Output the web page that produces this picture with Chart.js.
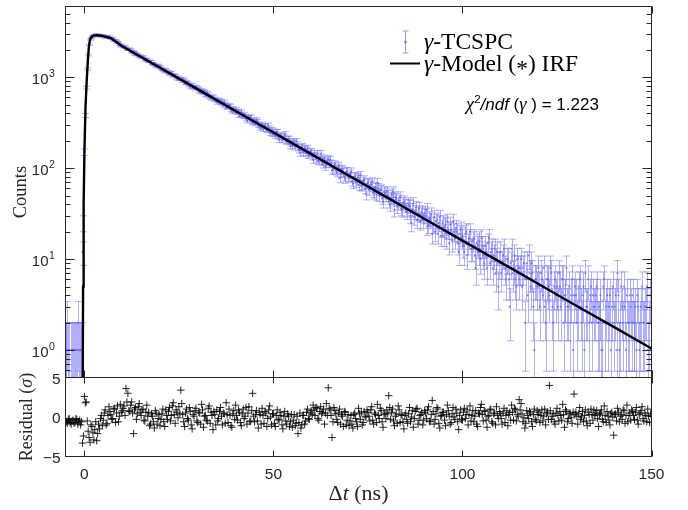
<!DOCTYPE html>
<html>
<head>
<meta charset="utf-8">
<script src="https://cdn.jsdelivr.net/npm/chart.js@4.4.1/dist/chart.umd.min.js"></script>
<style>
body { margin: 0; background: #fff; }
#wrap { position: relative; width: 688px; height: 510px; }
canvas { position: absolute; left: 0; }
#decay { top: 0; }
#resid { top: 370px; }
</style>
</head>
<body>
<div id="wrap">
  <canvas id="decay" width="688" height="378"></canvas>
  <canvas id="resid" width="688" height="140"></canvas>
</div>
<script>
// time bins: first bin centre and bin width (ns)
var tStart = -5, tStep = 0.25;

// photon counts per bin (t = -5 ... 150 ns), 20 bins per row = 5 ns
var counts = [
  1, 1, 2, 1, 1, 0, 1, 1, 1, 1, 1, 1, 1, 2, 1, 1, 1, 1, 12, 25,
  150, 380, 770, 1230, 1760, 2280, 2600, 2700, 2810, 2880, 2890, 2850, 2930, 2940, 2870, 2880, 2910, 2830, 2840, 2880,
  2860, 2790, 2745, 2830, 2785, 2720, 2800, 2680, 2680, 2700, 2560, 2540, 2560, 2510, 2425, 2420, 2405, 2290, 2200, 2260,
  2206, 2140, 2179, 2150, 2048, 2030, 2020, 2050, 2039, 1920, 1881, 1930, 1882, 1800, 1762, 1820, 1794, 1700, 1722, 1710,
  1651, 1680, 1674, 1590, 1530, 1580, 1560, 1490, 1486, 1500, 1496, 1410, 1395, 1420, 1380, 1340, 1306, 1350, 1354, 1270,
  1311, 1240, 1223, 1200, 1155, 1210, 1195, 1130, 1150, 1120, 1079, 1110, 1129, 1040, 1044, 1060, 1038, 990, 959, 1000,
  948, 970, 947, 910, 955, 925, 861, 860, 893, 870, 835, 810, 775, 830, 816, 770, 780, 750, 788, 760,
  747, 710, 684, 725, 697, 670, 707, 690, 642, 630, 677, 650, 612, 600, 583, 615, 610, 570, 580, 555,
  529, 565, 561, 525, 542, 540, 511, 490, 537, 505, 468, 470, 477, 490, 483, 440, 421, 455, 430, 418,
  445, 410, 420, 425, 381, 390, 416, 380, 370, 392, 371, 350, 332, 365, 363, 340, 365, 325, 319, 338,
  320, 310, 340, 325, 295, 300, 278, 285, 304, 270, 290, 292, 270, 262, 296, 275, 244, 262, 261, 240,
  252, 238, 228, 250, 251, 222, 206, 230, 230, 205, 214, 222, 238, 200, 197, 210, 211, 188, 176, 196,
  176, 195, 190, 172, 198, 182, 168, 160, 147, 170, 174, 150, 162, 165, 146, 158, 166, 140, 145, 152,
  151, 135, 124, 145, 137, 128, 143, 120, 123, 131, 145, 118, 111, 128, 122, 105, 113, 119, 126, 112,
  124, 112, 95, 98, 106, 110, 94, 90, 106, 101, 78, 88, 97, 96, 90, 81, 77, 92, 92, 80,
  79, 86, 91, 72, 68, 80, 81, 70, 76, 79, 65, 75, 83, 64, 66, 71, 74, 60, 52, 68,
  69, 58, 63, 66, 70, 55, 53, 62, 60, 51, 69, 60, 50, 57, 58, 47, 43, 55, 53, 50,
  55, 50, 43, 40, 47, 52, 55, 45, 35, 48, 46, 38, 41, 44, 48, 36, 35, 41, 43, 39,
  35, 33, 41, 39, 38, 30, 25, 35, 41, 29, 33, 37, 27, 32, 36, 26, 31, 33, 27, 30,
  32, 30, 35, 23, 24, 28, 27, 31, 19, 24, 29, 20, 26, 27, 19, 25, 29, 18, 22, 25,
  18, 23, 24, 17, 26, 21, 15, 24, 21, 16, 26, 20, 17, 22, 20, 15, 12, 19, 21, 17,
  18, 14, 12, 19, 20, 11, 15, 17, 20, 13, 13, 16, 17, 11, 8, 15, 14, 12, 16, 10,
  17, 14, 11, 9, 14, 12, 8, 15, 17, 9, 12, 13, 8, 11, 13, 7, 10, 12, 5, 9,
  12, 7, 9, 11, 13, 8, 6, 10, 10, 6, 3, 9, 13, 7, 8, 11, 6, 5, 10, 8,
  6, 8, 10, 5, 8, 9, 2, 6, 9, 4, 11, 7, 5, 9, 7, 3, 1, 6, 6, 5,
  8, 5, 3, 7, 6, 4, 8, 3, 2, 6, 6, 5, 4, 8, 7, 3, 2, 5, 6, 4,
  5, 3, 7, 5, 3, 6, 6, 2, 4, 4, 8, 3, 3, 5, 2, 4, 6, 1, 4, 5,
  4, 2, 3, 5, 6, 3, 2, 4, 5, 1, 7, 3, 3, 6, 2, 4, 5, 2, 4, 3,
  3, 4, 5, 2, 2, 3, 4, 1, 1, 5, 6, 2, 3, 4, 2, 3, 4, 1, 3, 5,
  2, 3, 4, 1, 7, 4, 1, 2, 5, 3, 2, 5, 3, 1, 4, 2, 2, 4, 3, 2,
  4, 2, 2, 3, 1, 4, 3, 1, 2, 3, 5, 2, 2, 3, 3, 5, 1, 2, 4, 1,
  3
];

// normalised residuals (sigma), same bins
var residuals = [
  -0.5, -0.6, -0.8, -0.3, -0.2, -0.7, -0.9, -0.5, -0.4, -0.8, -0.7, -0.2, -0.3, -0.9, -0.6, -0.4, -1.0, -0.6, -3.3, -2.4,
  2.6, 1.8, 1.9, -0.5, -1.8, -2.6, -3.2, -1.0, -1.2, -2.0, -2.9, -1.6, -0.6, -3.0, -2.1, -0.9, -1.5, -0.2, 0.2, -1.1,
  -0.4, 0.5, 0.9, -1.0, -0.8, 0.2, 1.3, 0.7, 0.3, -0.3, -0.2, 1.0, 1.1, -0.7, 0.5, 1.4, -0.6, 0.1, 1.6, 0.6,
  0.8, 1.1, 1.4, 0.2, 3.6, 1.9, 3.0, 0.8, 0.7, 1.5, 1.9, 0.5, -2.1, 1.0, 1.2, -0.3, 0.4, 1.3, 1.7, 0.6,
  0.2, 0.9, 1.0, -0.4, -0.5, 0.6, 1.5, 0.1, 0.6, -1.1, -0.9, 0.4, 0.1, -0.6, -1.4, 0.8, 0.5, -0.9, -0.2, 0.3,
  -1.1, -0.3, 0.4, 1.0, -0.6, -1.2, 0.9, 0.2, -0.3, 0.7, 1.2, -0.5, 0.2, 1.4, 1.8, 0.3, -0.8, 0.9, 0.6, -0.1,
  1.3, 0.4, 3.4, 1.7, 0.3, -0.6, -1.2, 0.5, 1.0, -0.2, -0.4, 1.2, 0.7, -1.0, -1.5, 0.3, 0.1, 0.8, 1.1, -0.5,
  -0.7, 0.6, 0.5, -0.9, 1.6, 0.9, -1.3, 0.1, 0.2, -0.4, -0.5, 1.1, 1.4, -0.8, 0.6, 0.2, -1.6, 0.7, 0.3, -1.0,
  0.9, -0.5, -0.2, 0.7, 1.2, 0.1, -1.0, 0.5, 0.4, -0.8, 1.8, 0.3, -0.7, 1.0, 0.2, -1.1, -1.3, 0.4, 0.8, -0.3,
  1.5, 0.2, -0.4, 0.9, 0.6, -0.7, -1.1, 0.4, 1.0, -0.2, 0.1, 1.2, -0.9, 0.5, 1.3, -0.6, -0.5, 0.8, 3.0, 0.1,
  -0.6, 0.3, 0.8, -0.5, -1.4, 0.6, 0.3, -0.9, 1.1, 0.2, -0.8, 0.7, 0.5, -1.2, -0.2, 0.9, 1.4, 0.0, -1.0, 0.4,
  0.4, -0.8, -1.2, 0.2, 0.9, -0.3, -0.4, 0.6, 0.2, -1.0, -1.5, 0.1, 0.7, -0.5, -0.9, 0.4, 0.1, -1.2, -0.6, 0.3,
  -1.3, -0.4, 0.3, -1.1, -0.8, 0.1, -2.1, -0.7, 0.5, -1.4, -1.0, 0.2, 0.2, -0.9, -0.5, 0.6, 1.0, -0.2, -0.3, 0.5,
  0.8, 0.3, 1.5, 0.9, 0.2, 1.2, 1.1, -0.2, -0.4, 0.7, 1.3, 0.4, 0.6, 1.0, -0.9, 0.5, 1.7, 0.2, 3.7, 1.1,
  0.9, 0.2, -2.6, -0.6, 1.2, 0.8, 0.4, -0.3, -0.7, 0.5, 1.0, -0.9, 0.3, 0.1, -1.2, 0.7, 0.6, -1.0, -0.4, 0.3,
  -1.1, -0.5, 0.2, -0.9, -1.4, 0.3, 0.5, -0.2, -0.6, -1.2, 1.1, 0.4, -0.3, 0.6, -1.0, -0.7, 0.7, 0.0, 0.1, 0.9,
  0.6, 0.1, -0.5, 0.9, 1.3, -0.4, -0.9, 0.5, 0.3, -0.7, 1.6, 0.2, -0.2, 1.1, 0.8, -0.6, -1.3, 0.3, 0.5, -0.2,
  0.9, 0.4, 2.7, 1.2, -0.3, 0.6, 1.0, -0.5, -1.1, 0.1, 0.4, -0.8, 1.4, 0.9, -0.7, 0.3, 0.2, -0.6, -1.5, 0.2,
  0.5, -0.3, -0.8, 0.4, 1.2, -0.6, 0.0, 0.8, -1.3, -0.2, 0.7, 1.0, 1.1, -0.9, -0.4, 0.2, 0.3, 0.6, -1.0, -0.4,
  0.8, 0.5, -0.2, 0.9, 1.3, -0.6, -0.5, 0.3, 2.1, 0.7, -0.9, -0.3, 0.4, 1.2, 1.0, -0.8, -1.4, 0.1, 0.2, 0.6,
  0.6, -0.4, -1.1, 0.3, 1.5, 0.8, 0.1, -0.9, -0.7, 0.4, 1.2, 0.0, -0.3, 1.0, 0.5, -0.6, -1.6, 0.2, 0.9, -0.3,
  -0.4, 0.6, 1.1, -0.2, 0.3, 0.9, -1.0, 0.3, 1.4, -0.5, 0.2, 0.8, -0.6, 0.1, 0.8, -0.9, -1.2, 0.5, 0.4, 1.2,
  1.6, 0.3, -0.5, 0.8, 0.7, -0.4, -1.3, 0.1, 0.2, 0.9, 1.0, -0.6, -0.8, 0.4, 0.5, -1.0, 1.3, 0.2, -0.2, 0.7,
  0.4, -0.2, -0.9, 0.5, 1.1, -0.7, 0.2, 0.8, -1.1, 0.3, 0.6, -0.4, 1.5, 0.6, -0.4, 1.1, 0.9, -0.5, 0.3, 0.1,
  2.2, 0.9, 1.7, 0.4, -0.6, -0.1, -1.4, -0.8, 0.8, 0.2, -0.2, 0.7, 0.5, -0.6, -1.2, 0.3, 1.0, -0.3, -0.5, 0.8,
  0.3, 0.6, -0.7, 0.2, 0.9, -0.5, 0.1, 1.0, -1.0, 0.4, 0.6, -0.3, 4.0, 0.8, -0.3, 0.1, 0.4, -0.6, -0.9, 0.5,
  1.1, 0.2, -0.5, 0.7, 0.2, -0.4, 1.6, 0.3, -1.3, 0.9, 0.7, -0.6, -0.2, 0.4, 0.5, -0.1, -0.8, 0.6, 2.9, 0.3,
  0.6, 0.1, -0.9, 0.4, 1.2, -0.3, 0.0, 0.7, -0.6, 0.2, 0.9, -0.5, -1.1, 0.6, 0.3, -0.8, 1.0, 0.3, -0.4, 0.9,
  0.2, 0.5, 0.8, -0.2, -1.2, 0.3, 0.5, 0.9, -0.3, -0.6, 1.4, 0.2, -0.7, 0.7, 0.1, -0.4, -1.0, 0.4, 0.6, 0.0,
  -2.3, 0.3, 0.4, -0.5, 1.1, 0.6, -0.6, 0.1, 0.3, -0.3, 0.9, 0.8, -0.8, 0.2, 1.5, -0.6, 0.2, 0.5, -0.4, 0.9,
  0.7, 0.2, -0.3, 0.6, 1.2, -0.4, -0.9, 0.3, 0.5, 0.8, 1.3, -0.2, -0.5, 0.5, 0.2, -0.6, 1.0, 0.1, -0.7, 0.4,
  0.1
];

// fitted model (convolved with IRF)
var modelT = [-0.5, -0.45, -0.35, -0.2, 0, 0.3, 0.6, 0.9, 1.2, 1.5, 2, 2.5, 3.5, 5, 7,
  10, 15, 20, 30, 40, 50, 60, 70, 80, 90, 100, 110, 120, 130, 140, 150];
var modelY = [0.1, 0.4, 5, 40, 150, 480, 900, 1500, 2200, 2600, 2820, 2890, 2900, 2830, 2700,
  2197, 1671, 1271, 736, 426, 247, 143, 82.6, 47.8, 27.7, 16.0, 9.27, 5.36, 3.10, 1.80, 1.04];

var xTicks = [0, 50, 100, 150];
var logTicks = [1, 10, 100, 1000];
var resTicks = [-5, 0, 5];
var chi2ndf = '1.223';

var ink = '#262626';
var barColor = 'rgba(125,125,255,0.6)';
var serif = 'Liberation Serif';
var sans = 'Liberation Sans';

var timeBins = counts.map(function(_, i) { return tStart + i * tStep; });

// draw a row of differently styled text pieces
function drawRuns(ctx, runs, x, y, align) {
    var w = 0;
    runs.forEach(function(r) { ctx.font = r[1]; w += ctx.measureText(r[0]).width; });
    var cx = align === 'center' ? x - w / 2 : x;
    ctx.textAlign = 'left';
    runs.forEach(function(r) {
        ctx.font = r[1];
        ctx.fillText(r[0], cx, y + (r[2] || 0));
        cx += ctx.measureText(r[0]).width;
    });
}

var errorBars = {
    id: 'errorBars',
    beforeDatasetsDraw: function(chart) {
        var ctx = chart.ctx, a = chart.chartArea;
        var xs = chart.scales.x, ys = chart.scales.y;
        ctx.save();
        ctx.beginPath();
        ctx.rect(a.left, a.top, a.right - a.left, a.bottom - a.top);
        ctx.clip();
        ctx.strokeStyle = barColor;
        ctx.lineWidth = 1;
        counts.forEach(function(n, i) {
            if (n <= 0) return;
            var s = Math.sqrt(n);
            var px = Math.round(xs.getPixelForValue(timeBins[i])) + 0.5;
            var yh = ys.getPixelForValue(n + s);
            var yl = n - s > 0 ? ys.getPixelForValue(n - s) : a.bottom + 5;
            ctx.beginPath();
            ctx.moveTo(px, yl); ctx.lineTo(px, yh);
            ctx.moveTo(px - 3.5, yh); ctx.lineTo(px + 3.5, yh);
            ctx.moveTo(px - 3.5, yl); ctx.lineTo(px + 3.5, yl);
            ctx.stroke();
        });
        ctx.restore();
    }
};

var decayFrame = {
    id: 'decayFrame',
    afterDraw: function(chart) {
        var ctx = chart.ctx, a = chart.chartArea;
        var xs = chart.scales.x, ys = chart.scales.y;
        ctx.save();
        ctx.strokeStyle = ink;
        ctx.lineWidth = 1;
        ctx.strokeRect(a.left, a.top, a.right - a.left, a.bottom - a.top);
        ctx.beginPath();
        xTicks.forEach(function(v) {
            var px = Math.round(xs.getPixelForValue(v)) + 0.5;
            ctx.moveTo(px, a.top); ctx.lineTo(px, a.top + 7);
            ctx.moveTo(px, a.bottom); ctx.lineTo(px, a.bottom - 7);
        });
        for (var e = -1; e <= 3; e++) {
            for (var m = 1; m <= 9; m++) {
                var v = m * Math.pow(10, e);
                if (v <= ys.min || v >= ys.max) continue;
                var len = m === 1 ? 9 : 5;
                var py = Math.round(ys.getPixelForValue(v)) + 0.5;
                ctx.moveTo(a.left, py); ctx.lineTo(a.left + len, py);
                ctx.moveTo(a.right, py); ctx.lineTo(a.right - len, py);
            }
        }
        ctx.stroke();

        // tick labels 10^n
        ctx.fillStyle = ink;
        ctx.textBaseline = 'middle';
        logTicks.forEach(function(v) {
            var py = ys.getPixelForValue(v) + 3;
            ctx.font = '15px ' + sans;
            ctx.textAlign = 'right';
            ctx.fillText('10', a.left - 17, py);
            ctx.font = '10.5px ' + sans;
            ctx.textAlign = 'left';
            ctx.fillText(String(Math.round(Math.log10(v))), a.left - 16.5, py - 6);
        });

        // y title
        ctx.textBaseline = 'alphabetic';
        ctx.save();
        ctx.translate(26, (a.top + a.bottom) / 2);
        ctx.rotate(-Math.PI / 2);
        drawRuns(ctx, [['Counts', '18.5px ' + serif]], 0, 0, 'center');
        ctx.restore();

        // legend
        ctx.strokeStyle = 'rgba(125,125,255,0.8)';
        ctx.beginPath();
        ctx.moveTo(405.5, 31); ctx.lineTo(405.5, 53);
        ctx.moveTo(402.5, 31); ctx.lineTo(408.5, 31);
        ctx.moveTo(402.5, 53); ctx.lineTo(408.5, 53);
        ctx.stroke();
        ctx.fillStyle = 'rgba(110,110,255,0.9)';
        ctx.beginPath(); ctx.arc(405.5, 42, 1.3, 0, Math.PI * 2); ctx.fill();
        ctx.strokeStyle = '#000';
        ctx.lineWidth = 2;
        ctx.beginPath(); ctx.moveTo(390, 63.5); ctx.lineTo(420, 63.5); ctx.stroke();
        ctx.fillStyle = '#000';
        var lf = '23.5px ' + serif;
        drawRuns(ctx, [['\u03b3', 'italic ' + lf], ['-TCSPC', lf]], 424, 49);
        drawRuns(ctx, [['\u03b3', 'italic ' + lf], ['-Model (', lf], ['*', lf, 5], [') IRF', lf]], 424, 71);

        // fit quality
        drawRuns(ctx, [
            ['\u03c7', 'italic 18.5px ' + serif],
            ['2', '11.5px ' + sans, -7],
            ['/ndf', 'italic 17px ' + sans],
            [' (', '17px ' + sans],
            ['\u03b3', 'italic 18.5px ' + serif],
            [' ) = ' + chi2ndf, '17px ' + sans]
        ], 466, 110);
        ctx.restore();
    }
};

var residFrame = {
    id: 'residFrame',
    afterDraw: function(chart) {
        var ctx = chart.ctx, a = chart.chartArea;
        var xs = chart.scales.x, ys = chart.scales.y;
        ctx.save();
        ctx.strokeStyle = ink;
        ctx.lineWidth = 1;
        ctx.strokeRect(a.left, a.top, a.right - a.left, a.bottom - a.top);
        ctx.beginPath();
        xTicks.forEach(function(v) {
            var px = Math.round(xs.getPixelForValue(v)) + 0.5;
            ctx.moveTo(px, a.top); ctx.lineTo(px, a.top + 6);
            ctx.moveTo(px, a.bottom); ctx.lineTo(px, a.bottom - 6);
        });
        ctx.stroke();

        ctx.fillStyle = ink;
        ctx.font = '15.5px ' + sans;
        ctx.textAlign = 'right';
        ctx.textBaseline = 'middle';
        resTicks.forEach(function(v) {
            ctx.fillText(v < 0 ? '\u2212' + Math.abs(v) : String(v), a.left - 5, ys.getPixelForValue(v) + 2);
        });

        ctx.textBaseline = 'alphabetic';
        ctx.save();
        ctx.translate(32, (a.top + a.bottom) / 2);
        ctx.rotate(-Math.PI / 2);
        drawRuns(ctx, [['Residual (', '18px ' + serif], ['\u03c3', 'italic 18px ' + serif], [')', '18px ' + serif]], 0, 0, 'center');
        ctx.restore();

        drawRuns(ctx, [['\u0394', '22px ' + serif], ['t', 'italic 22px ' + serif], [' (ns)', '22px ' + serif]],
            (a.left + a.right) / 2, 130, 'center');
        ctx.restore();
    }
};

var decayChart = new Chart(document.getElementById('decay').getContext('2d'), {
    type: 'scatter',
    data: {
        datasets: [
            {
                label: 'Model (*) IRF',
                data: modelT.map(function(t, i) { return {x: t, y: modelY[i]}; }),
                showLine: true,
                borderColor: '#000',
                borderWidth: 2.4,
                pointRadius: 0,
                tension: 0
            },
            {
                label: 'TCSPC',
                data: counts.map(function(n, i) { return {x: timeBins[i], y: n > 0 ? n : null}; }),
                pointRadius: 1.1,
                pointBorderWidth: 0,
                backgroundColor: 'rgba(100,100,255,0.8)'
            }
        ]
    },
    options: {
        responsive: false,
        animation: false,
        devicePixelRatio: 1,
        layout: {autoPadding: false, padding: {left: 65.5, right: 36.5, top: 6.5, bottom: 0.5}},
        plugins: {legend: {display: false}, tooltip: {enabled: false}},
        scales: {
            x: {type: 'linear', min: -5, max: 150, display: false},
            y: {type: 'logarithmic', min: 0.5, max: 6000, display: false}
        }
    },
    plugins: [errorBars, decayFrame]
});

var residChart = new Chart(document.getElementById('resid').getContext('2d'), {
    type: 'scatter',
    data: {
        datasets: [{
            label: 'Residual',
            data: residuals.map(function(r, i) { return {x: timeBins[i], y: r}; }),
            pointStyle: 'cross',
            pointRadius: 3.7,
            borderColor: 'rgba(0,0,0,0.85)',
            borderWidth: 1
        }]
    },
    options: {
        responsive: false,
        animation: false,
        devicePixelRatio: 1,
        layout: {autoPadding: false, padding: {left: 65.5, right: 36.5, top: 7.5, bottom: 0}},
        plugins: {legend: {display: false}, tooltip: {enabled: false}},
        scales: {
            x: {
                type: 'linear', min: -5, max: 150,
                afterBuildTicks: function(s) { s.ticks = xTicks.map(function(v) { return {value: v}; }); },
                afterFit: function(s) { s.height = 53.5; },
                grid: {display: false, drawTicks: false},
                border: {display: false},
                ticks: {padding: 9, color: ink, font: {family: sans, size: 15.5}}
            },
            y: {type: 'linear', min: -5, max: 5, display: false}
        }
    },
    plugins: [residFrame]
});
</script>
</body>
</html>
